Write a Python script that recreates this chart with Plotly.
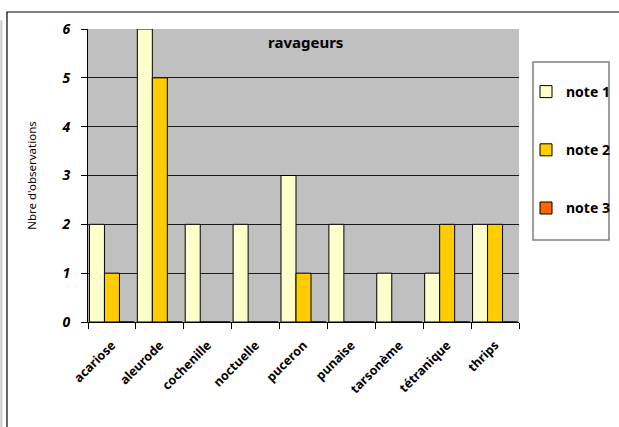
import plotly.graph_objects as go

# Observation counts per pest, split by severity note
categories = ["acariose", "aleurode", "cochenille", "noctuelle", "puceron",
              "punaise", "tarsonème", "tétranique", "thrips"]
note1 = [2, 6, 2, 2, 3, 2, 1, 1, 2]
note2 = [1, 5, 0, 0, 1, 0, 0, 2, 2]
note3 = [0, 0, 0, 0, 0, 0, 0, 0, 0]
series_names = ["note 1", "note 2", "note 3"]
series_colors = ["#FFFFCC", "#FFCC00", "#FF6600"]
y_ticks = [0, 1, 2, 3, 4, 5, 6]

FONT = "Noto Sans"

fig = go.Figure()
for i, (name, vals, col) in enumerate(zip(series_names, [note1, note2, note3], series_colors)):
    fig.add_trace(go.Bar(
        x=categories, y=vals, name=name, legendgroup=name,
        marker=dict(color=col, line=dict(color="#000000", width=1)),
    ))

# Outer chart frame
fig.add_shape(type="rect", xref="paper", yref="paper",
              x0=-0.188, x1=1.4, y0=-0.6, y1=1.058,
              line=dict(color="#000000", width=1.2), fillcolor="rgba(0,0,0,0)",
              layer="below")
fig.add_shape(type="line", xref="paper", yref="paper",
              x0=-0.201, x1=-0.201, y0=-0.6, y1=1.03,
              line=dict(color="#C8C8C8", width=2), layer="below")
# Legend box
fig.add_shape(type="rect", xref="paper", yref="paper",
              x0=(533 - 88) / 431, x1=(609 - 88) / 431,
              y0=(322 - 240) / 293, y1=(322 - 62) / 293,
              line=dict(color="#7F7F7F", width=1.5), fillcolor="#FFFFFF",
              layer="below")

fig.update_layout(
    width=619, height=427,
    margin=dict(l=88, r=100, t=29, b=105, autoexpand=False),
    paper_bgcolor="#FFFFFF",
    plot_bgcolor="#C0C0C0",
    barmode="group",
    bargap=0.06,
    bargroupgap=0,
    font=dict(family=FONT, color="#000000"),
    showlegend=True,
    legend=dict(
        x=(526 - 88) / 431, y=(322 - 76) / 293, xanchor="left", yanchor="top",
        bgcolor="rgba(0,0,0,0)", borderwidth=0,
        font=dict(family=FONT, size=14, weight="bold", color="#000000"),
        tracegroupgap=37, traceorder="grouped",
        itemwidth=30,
    ),
    annotations=[dict(
        text="ravageurs", xref="paper", yref="paper",
        x=(305 - 88) / 431, y=(322 - 42) / 293, xanchor="center", yanchor="middle",
        showarrow=False, font=dict(family=FONT, size=15, weight="bold", color="#000000"),
    )],
)

fig.update_xaxes(
    type="category",
    showline=True, linecolor="#000000", linewidth=1,
    ticks="outside", tickson="boundaries", ticklen=6, tickcolor="#000000",
    tickangle=-45, ticklabelstandoff=10,
    tickfont=dict(family=FONT, size=12.5, weight="bold", color="#000000"),
    showgrid=False,
)
fig.update_yaxes(
    range=[0, 6],
    tickvals=y_ticks,
    showline=True, linecolor="#000000", linewidth=1,
    ticks="outside", ticklen=6, tickcolor="#000000", ticklabelstandoff=8,
    tickfont=dict(family=FONT, size=14, weight="bold", style="italic", color="#000000"),
    showgrid=True, gridcolor="#1A1A1A", gridwidth=1,
    zeroline=False,
    title=dict(text="Nbre d'observations", standoff=22,
               font=dict(family=FONT, size=11.5, color="#000000")),
)

fig.write_html("out.html")
